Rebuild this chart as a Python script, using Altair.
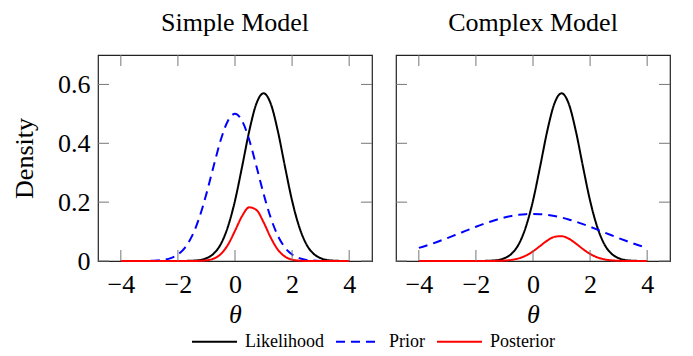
import altair as alt
import pandas as pd

# ---- data ----
theta = [-4.0, -3.75, -3.5, -3.25, -3.0, -2.75, -2.5, -2.25, -2.0, -1.75, -1.5,
         -1.25, -1.0, -0.75, -0.5, -0.25, 0.0, 0.25, 0.5, 0.75, 1.0, 1.25, 1.5,
         1.75, 2.0, 2.25, 2.5, 2.75, 3.0, 3.25, 3.5, 3.75, 4.0]

likelihood = [0, 0, 0, 0, 0, 0, 0, 0, 0.0001, 0.0003, 0.001, 0.003, 0.0096, 0.025,
              0.057, 0.116, 0.205, 0.321, 0.442, 0.535, 0.57, 0.535, 0.442, 0.321,
              0.205, 0.116, 0.057, 0.025, 0.0096, 0.003, 0.001, 0.0003, 0.0001]

prior_simple = [0, 0, 0, 0.0001, 0.0004, 0.0014, 0.0038, 0.0096, 0.022, 0.0457,
                0.086, 0.1475, 0.229, 0.322, 0.411, 0.476, 0.5, 0.476, 0.411, 0.322,
                0.229, 0.1475, 0.086, 0.0457, 0.022, 0.0096, 0.0038, 0.0014, 0.0004,
                0.0001, 0, 0, 0]

posterior_simple = [0, 0, 0, 0, 0, 0, 0, 0, 0, 0, 0.0001, 0.0005, 0.0022, 0.008,
                    0.0234, 0.0548, 0.1025, 0.153, 0.1824, 0.1736, 0.1319, 0.080,
                    0.0387, 0.015, 0.0046, 0.0011, 0.0002, 0, 0, 0, 0, 0, 0]

prior_complex = [0.0445, 0.052, 0.060, 0.0687, 0.0779, 0.0874, 0.097, 0.1067, 0.1162,
                 0.1252, 0.1336, 0.1412, 0.1477, 0.153, 0.1568, 0.1592, 0.16, 0.1592,
                 0.1568, 0.153, 0.1477, 0.1412, 0.1336, 0.1252, 0.1162, 0.1067, 0.097,
                 0.0874, 0.0779, 0.0687, 0.060, 0.052, 0.0445]

posterior_complex = [0, 0, 0, 0, 0, 0, 0, 0, 0, 0, 0.0001, 0.0005, 0.0014, 0.0038,
                     0.009, 0.0184, 0.0328, 0.0511, 0.0694, 0.082, 0.0845, 0.0759,
                     0.0595, 0.0406, 0.0241, 0.0125, 0.0056, 0.0022, 0.0008, 0.0002,
                     0.0001, 0, 0]

series_names = ["Likelihood", "Prior", "Posterior"]
series_colors = ["#000000", "#0000ff", "#ff0000"]
series_dashes = [[1, 0], [9, 6], [1, 0]]
x_ticks = [-4, -2, 0, 2, 4]
y_ticks = [0, 0.2, 0.4, 0.6]
panel_titles = ["Simple Model", "Complex Model"]

W, H = 274, 206
TICK = 11
FONT = "Liberation Serif"

legend = alt.Legend(
    orient="none", legendX=93, legendY=263, direction="horizontal", title=None,
    symbolType="stroke", symbolSize=2025, symbolStrokeWidth=2,
    labelFont=FONT, labelFontSize=18, labelColor="black",
    labelOffset=7, columnPadding=8, padding=0,
)


def panel(title, prior, posterior, show_y):
    df = pd.DataFrame({
        "theta": theta * 3,
        "density": likelihood + prior + posterior,
        "series": [series_names[0]] * len(theta) + [series_names[1]] * len(theta)
        + [series_names[2]] * len(theta),
    })
    xs = alt.Scale(domain=[-4.8, 4.8], nice=False, zero=False)
    ys = alt.Scale(domain=[0, 0.7], nice=False)
    x_axis = alt.Axis(values=x_ticks, title="θ", ticks=False, domain=False,
                      grid=False, labelFont=FONT, labelFontSize=26, labelColor="black",
                      labelPadding=10, labelFlush=False, titleFont=FONT,
                      titleFontStyle="italic", titleFontWeight="normal",
                      titleFontSize=26, titleColor="black", titlePadding=4)
    if show_y:
        y_axis = alt.Axis(values=y_ticks, title="Density", ticks=False,
                          domain=False, grid=False, labelFont=FONT, labelFontSize=26,
                          labelColor="black", labelPadding=8, labelFlush=False,
                          labelExpr="datum.value == 0 ? '0' : format(datum.value, '.1f')",
                          titleFont=FONT, titleFontWeight="normal", titleFontSize=26,
                          titleColor="black", titlePadding=20)
        y_enc = alt.Y("density:Q", scale=ys, axis=y_axis)
    else:
        y_enc = alt.Y("density:Q", scale=ys, axis=None)

    lines = alt.Chart(df).mark_line(strokeWidth=2, interpolate="monotone").encode(
        x=alt.X("theta:Q", scale=xs, axis=x_axis),
        y=y_enc,
        color=alt.Color("series:N", scale=alt.Scale(domain=series_names, range=series_colors),
                        legend=legend),
        strokeDash=alt.StrokeDash("series:N",
                                  scale=alt.Scale(domain=series_names, range=series_dashes),
                                  legend=legend),
    )

    xt = pd.DataFrame({"theta": x_ticks})
    yt = pd.DataFrame({"density": y_ticks})
    tick_style = dict(color="#777777", strokeWidth=1)
    bottom = alt.Chart(xt).mark_rule(**tick_style).encode(
        x=alt.X("theta:Q", scale=xs), y=alt.value(H), y2=alt.value(H - TICK))
    top = alt.Chart(xt).mark_rule(**tick_style).encode(
        x=alt.X("theta:Q", scale=xs), y=alt.value(0), y2=alt.value(TICK))
    left = alt.Chart(yt).mark_rule(**tick_style).encode(
        y=alt.Y("density:Q", scale=ys), x=alt.value(0), x2=alt.value(TICK))
    right = alt.Chart(yt).mark_rule(**tick_style).encode(
        y=alt.Y("density:Q", scale=ys), x=alt.value(W), x2=alt.value(W - TICK))

    return alt.layer(lines, bottom, top, left, right).properties(
        width=W, height=H,
        title=alt.TitleParams(title, font=FONT, fontSize=26, fontWeight="normal",
                              color="black", anchor="middle", offset=19),
    )


chart = alt.hconcat(
    panel(panel_titles[0], prior_simple, posterior_simple, True),
    panel(panel_titles[1], prior_complex, posterior_complex, False),
    spacing=20,
).resolve_scale(color="shared", strokeDash="shared").configure_view(
    stroke="#222222", strokeWidth=1.2
).properties(padding={"left": 2, "top": 0, "right": 0, "bottom": 0})

chart.save("out.html", embed_options={"renderer": "svg", "actions": False})
